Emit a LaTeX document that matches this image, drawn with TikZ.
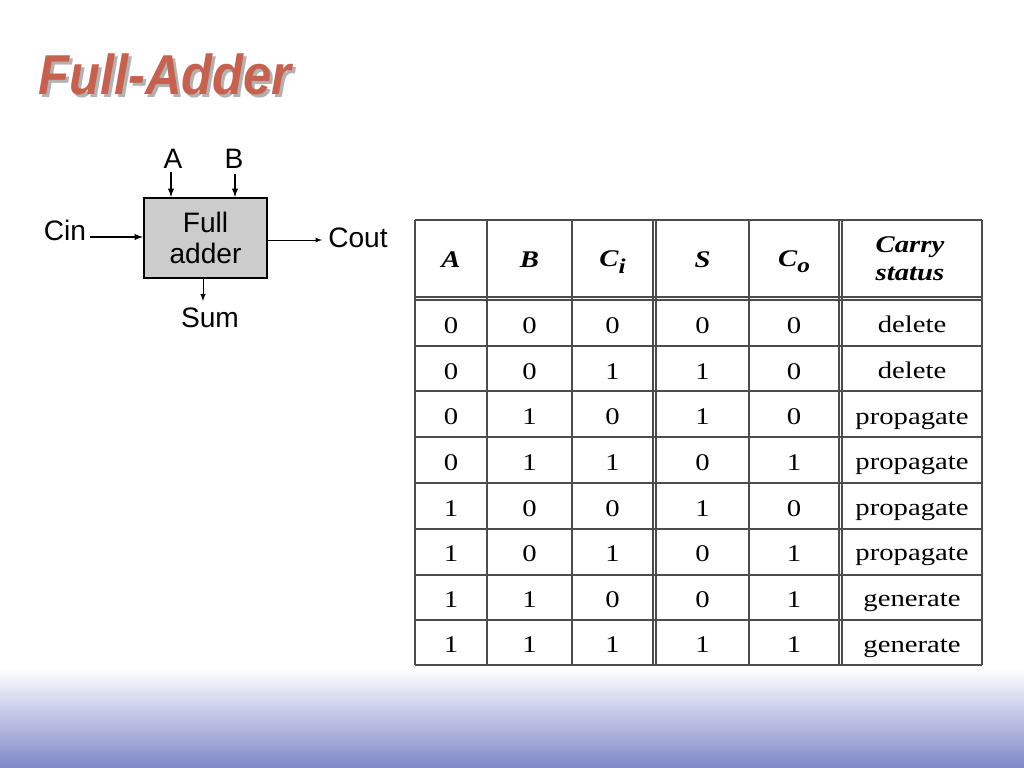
\documentclass[tikz,border=0pt]{standalone}
\usepackage{fontspec}
\setmainfont{Liberation Serif}
\setsansfont{Liberation Sans}
\newfontfamily\tabfont[FakeStretch=1.2]{Liberation Serif}
\newfontfamily\titlefont[FakeStretch=0.9]{Liberation Sans}
\usetikzlibrary{positioning}

\definecolor{titlered}{RGB}{200,96,78}
\definecolor{bandblue}{RGB}{127,135,200}

\tikzset{
	pin text/.style = {font = \sffamily\fontsize{20}{22}\selectfont, inner sep = 0pt},
	cell/.style = {font = \tabfont\fontsize{17}{19}\selectfont, inner sep = 0pt},
	head/.style = {font = \tabfont\bfseries\itshape\fontsize{17}{20}\selectfont, inner sep = 0pt, align = center},
	grid line/.style = {line width = 0.8pt, black!70},
}

\begin{document}
\begin{tikzpicture}[> = latex, x = 0.025cm, y = -0.025cm]

	% Page and bottom band
	\fill [white] (0, 0) rectangle (1024, 768);
	\shade [top color = white, bottom color = bandblue] (0, 668) rectangle (1024, 768);
	\useasboundingbox (0, 0) rectangle (1024, 768);

	% Title with its shadow
	\node [anchor = base west, inner sep = 0pt, gray!60, font = \titlefont\bfseries\itshape\fontsize{40}{44}\selectfont] (title-shadow) at (41, 98) {Full-Adder};
	\node [anchor = base west, inner sep = 0pt, titlered, font = \titlefont\bfseries\itshape\fontsize{40}{44}\selectfont] (title) at (38, 95) {Full-Adder};

	% The full adder block
	\node [draw, line width = 1.6pt, fill = gray!40, minimum width = 3.075cm, minimum height = 2cm, align = center, inner sep = 0pt,
		font = \sffamily\fontsize{20}{21.5}\selectfont] (fa) at (205.5, 238) {Full\\adder};

	\node [pin text] (a-label) at (173, 159) {A};
	\node [pin text] (b-label) at (234, 159) {B};
	\node [pin text] (cin-label) at (65, 230) {Cin};
	\node [pin text] (cout-label) at (358, 238) {Cout};
	\node [pin text] (sum-label) at (210, 318) {Sum};

	\coordinate (a-in) at (171, 172);
	\coordinate (b-in) at (235, 174);
	\coordinate (cin-in) at (90, 237);
	\coordinate (cout-out) at (322, 240);
	\coordinate (sum-out) at (203, 301);

	\begin{scope}[->]
		\draw [line width = 1pt] (a-in) -- (a-in |- fa.north);
		\draw [line width = 1pt] (b-in) -- (b-in |- fa.north);
		\draw [line width = 1pt] (cin-in) -- (cin-in -| fa.west);
		\draw [line width = 0.6pt] (cout-out -| fa.east) -- (cout-out);
		\draw [line width = 0.7pt] (sum-out |- fa.south) -- (sum-out);
	\end{scope}

	% Truth table rules
	\begin{scope}[grid line]
		\foreach \y in {220, 297, 300, 346, 391, 437, 483, 529, 575, 620, 665}
			\draw (415, \y) -- (982, \y);
		\foreach \x in {415, 487, 572, 653, 656, 749, 839, 842, 982}
			\draw (\x, 220) -- (\x, 665);
	\end{scope}

	% Header
	\node [head] (h-a) at (451, 260) {A};
	\node [head] (h-b) at (529.5, 260) {B};
	\node [head] (h-ci) at (612.5, 262) {C\raisebox{-0.65ex}{\fontsize{15}{15}\selectfont i}};
	\node [head] (h-s) at (702.5, 260) {S};
	\node [head] (h-co) at (794, 262) {C\raisebox{-0.55ex}{\fontsize{15}{15}\selectfont o}};
	\node [head] (h-st) at (910, 259) {Carry\\status};

	% Rows
	\foreach \va/\vb/\vc/\vs/\vo/\vst [count = \r] in {0/0/0/0/0/delete, 0/0/1/1/0/delete, 0/1/0/1/0/propagate, 0/1/1/0/1/propagate,
			1/0/0/1/0/propagate, 1/0/1/0/1/propagate, 1/1/0/0/1/generate, 1/1/1/1/1/generate} {
		\node [cell] (r\r-a) at (451, {300 + (\r - 0.5) * 45.6 + 3}) {\va};
		\node [cell] (r\r-b) at (529.5, {300 + (\r - 0.5) * 45.6 + 3}) {\vb};
		\node [cell] (r\r-ci) at (612.5, {300 + (\r - 0.5) * 45.6 + 3}) {\vc};
		\node [cell] (r\r-s) at (702.5, {300 + (\r - 0.5) * 45.6 + 3}) {\vs};
		\node [cell] (r\r-co) at (794, {300 + (\r - 0.5) * 45.6 + 3}) {\vo};
		\node [cell, anchor = base] (r\r-st) at (912, {300 + (\r - 0.5) * 45.6 + 10}) {\vst};
	}

\end{tikzpicture}
\end{document}
